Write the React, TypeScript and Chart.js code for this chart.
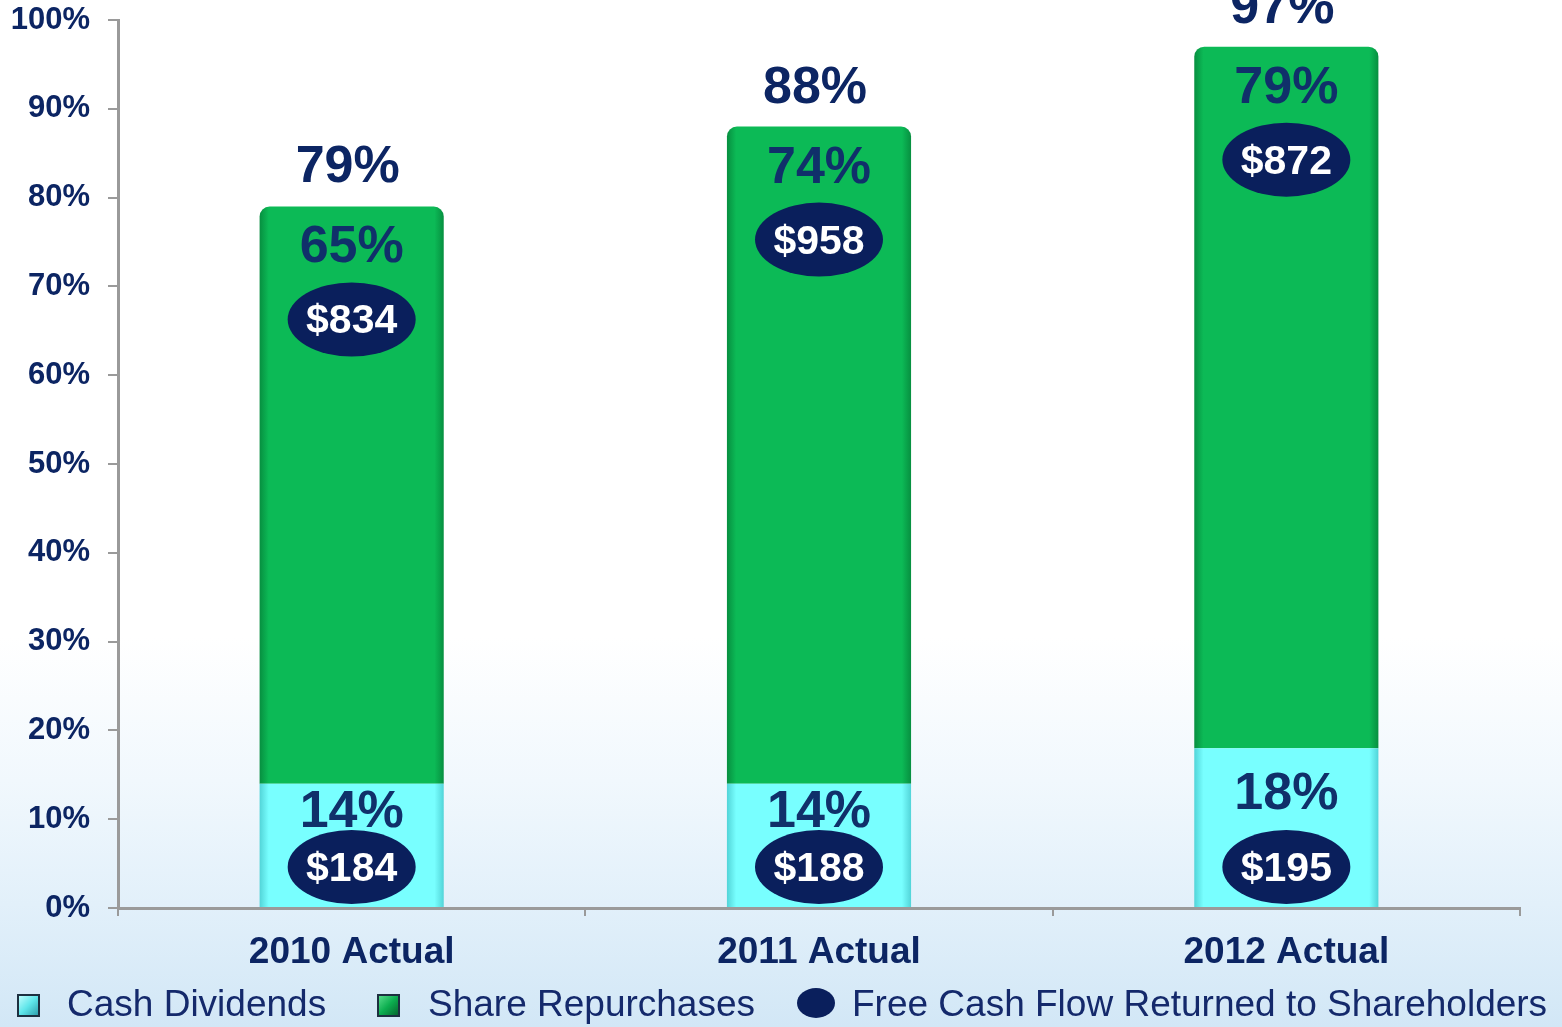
import React, { useEffect, useRef } from "react";
import { Chart, registerables } from "chart.js";

Chart.register(...registerables);

const categories = ["2010 Actual", "2011 Actual", "2012 Actual"];
const cashDividendPct = [14, 14, 18];
const shareRepurchasePct = [65, 74, 79];
const totalPct = [79, 88, 97];
const cashDividendAmt = ["$184", "$188", "$195"];
const shareRepurchaseAmt = ["$834", "$958", "$872"];
const legendLabels = ["Cash Dividends", "Share Repurchases", "Free Cash Flow Returned to Shareholders"];

const FONT = '"Liberation Sans", Arial, Helvetica, sans-serif';
const NAVY = "#0c2563";
const INNER = "#10306a";
const ELLIPSE = "#0a1f5c";
const CYAN = "#78ffff";
const CYAN_EDGE = "#52d4d8";
const GREEN = "#0cba56";
const GREEN_EDGE = "#078f40";
const BAR_PCT = 0.394;

function barFill(base: string, edge: string) {
  return (ctx: any) => {
    const chart = ctx.chart;
    const xs = chart.scales && chart.scales.x;
    const area = chart.chartArea;
    if (!xs || !area) return base;
    const cx = xs.getPixelForValue(ctx.dataIndex);
    const w = (area.width / categories.length) * BAR_PCT;
    if (!isFinite(cx) || !isFinite(w) || w <= 0) return base;
    const g = chart.ctx.createLinearGradient(cx - w / 2, 0, cx + w / 2, 0);
    g.addColorStop(0, edge);
    g.addColorStop(0.05, base);
    g.addColorStop(0.95, base);
    g.addColorStop(1, edge);
    return g;
  };
}

const labelPlugin = {
  id: "labelPlugin",
  afterDatasetsDraw(chart: any) {
    const ctx = chart.ctx;
    const m0 = chart.getDatasetMeta(0);
    const m1 = chart.getDatasetMeta(1);
    ctx.save();
    ctx.textAlign = "center";
    ctx.textBaseline = "alphabetic";
    const ellipse = (x: number, y: number, text: string) => {
      ctx.beginPath();
      ctx.ellipse(x, y, 64, 37, 0, 0, Math.PI * 2);
      ctx.fillStyle = ELLIPSE;
      ctx.fill();
      ctx.fillStyle = "#ffffff";
      ctx.font = `bold 41px ${FONT}`;
      ctx.fillText(text, x, y + 14);
    };
    for (let i = 0; i < categories.length; i++) {
      const c = m0.data[i];
      const g = m1.data[i];
      const cBase = c.base;
      const cTop = c.y;
      const cEll = cBase - 40;
      const cPctBase = Math.min(cBase - 80, cTop + 61);
      ctx.fillStyle = INNER;
      ctx.font = `bold 52px ${FONT}`;
      ctx.fillText(`${cashDividendPct[i]}%`, c.x, cPctBase);
      ellipse(c.x, cEll, cashDividendAmt[i]);
      const gTop = g.y;
      ctx.fillStyle = INNER;
      ctx.font = `bold 52px ${FONT}`;
      ctx.fillText(`${shareRepurchasePct[i]}%`, g.x, gTop + 56);
      ellipse(g.x, gTop + 113, shareRepurchaseAmt[i]);
      const totalY = chart.scales.y.getPixelForValue(totalPct[i]);
      ctx.fillStyle = NAVY;
      ctx.font = `bold 52px ${FONT}`;
      ctx.fillText(`${totalPct[i]}%`, g.x - 4, totalY - 24);
    }
    ctx.restore();
  },
  afterDraw(chart: any) {
    const ctx = chart.ctx;
    ctx.save();
    const yBase = 1016;
    const square = (x: number, y: number, light: string, mid: string, dark: string) => {
      const gr = ctx.createLinearGradient(x, y, x + 21, y + 21);
      gr.addColorStop(0, light);
      gr.addColorStop(0.5, mid);
      gr.addColorStop(1, dark);
      ctx.fillStyle = gr;
      ctx.fillRect(x, y, 21, 21);
      ctx.strokeStyle = "#1d3040";
      ctx.lineWidth = 2;
      ctx.strokeRect(x, y, 21, 21);
    };
    square(18, 995, "#c8ffff", "#5fe6ea", "#2a9aa8");
    square(378, 995, "#5de08f", "#0cae4f", "#06602b");
    ctx.beginPath();
    ctx.ellipse(816, 1003, 19, 15, 0, 0, Math.PI * 2);
    ctx.fillStyle = ELLIPSE;
    ctx.fill();
    ctx.fillStyle = "#14296b";
    ctx.font = `37px ${FONT}`;
    ctx.textAlign = "left";
    ctx.textBaseline = "alphabetic";
    ctx.fillText(legendLabels[0], 67, yBase);
    ctx.fillText(legendLabels[1], 428, yBase);
    ctx.fillText(legendLabels[2], 852, yBase);
    ctx.restore();
  },
};

export default function App() {
  const ref = useRef<HTMLCanvasElement | null>(null);
  useEffect(() => {
    if (!ref.current) return;
    const chart = new Chart(ref.current, {
      type: "bar",
      data: {
        labels: categories,
        datasets: [
          {
            label: legendLabels[0],
            data: cashDividendPct,
            backgroundColor: barFill(CYAN, CYAN_EDGE),
            borderWidth: 0,
            barPercentage: BAR_PCT,
            categoryPercentage: 1,
          },
          {
            label: legendLabels[1],
            data: shareRepurchasePct,
            backgroundColor: barFill(GREEN, GREEN_EDGE),
            borderWidth: 0,
            borderRadius: { topLeft: 10, topRight: 10, bottomLeft: 0, bottomRight: 0 },
            borderSkipped: false,
            barPercentage: BAR_PCT,
            categoryPercentage: 1,
          },
        ],
      },
      options: {
        responsive: false,
        animation: false,
        devicePixelRatio: 1,
        layout: { padding: { top: 20, right: 42, left: 0, bottom: 0 } },
        plugins: { legend: { display: false }, tooltip: { enabled: false } },
        scales: {
          x: {
            stacked: true,
            grid: { drawOnChartArea: false, offset: true, tickLength: 8, color: "#9a9a9a", lineWidth: 2 },
            border: { color: "#9a9a9a", width: 3 },
            ticks: { color: NAVY, font: { family: FONT, size: 37, weight: "bold" }, padding: 15, maxRotation: 0 },
            afterFit: (s: any) => {
              s.height = 119;
              s.paddingLeft = 0;
              s.paddingRight = 0;
            },
          },
          y: {
            stacked: true,
            min: 0,
            max: 100,
            grid: { drawOnChartArea: false, tickLength: 10, color: "#9a9a9a", lineWidth: 2 },
            border: { color: "#9a9a9a", width: 3 },
            ticks: {
              stepSize: 10,
              color: NAVY,
              font: { family: FONT, size: 31, weight: "bold" },
              padding: 18,
              callback: (v: any) => `${v}%`,
            },
            afterFit: (s: any) => {
              s.width = 118;
              s.paddingTop = 0;
              s.paddingBottom = 0;
            },
          },
        },
      },
      plugins: [labelPlugin],
    });
    return () => chart.destroy();
  }, []);
  return (
    <div
      style={{
        position: "absolute",
        left: 0,
        top: 0,
        width: 1562,
        height: 1027,
        overflow: "hidden",
        background:
          "linear-gradient(to bottom, #ffffff 0%, #ffffff 62%, #f1f8fd 76%, #e2f0fa 88%, #d2e7f6 100%)",
      }}
    >
      <canvas ref={ref} width={1562} height={1027} style={{ display: "block", width: 1562, height: 1027 }} />
    </div>
  );
}
